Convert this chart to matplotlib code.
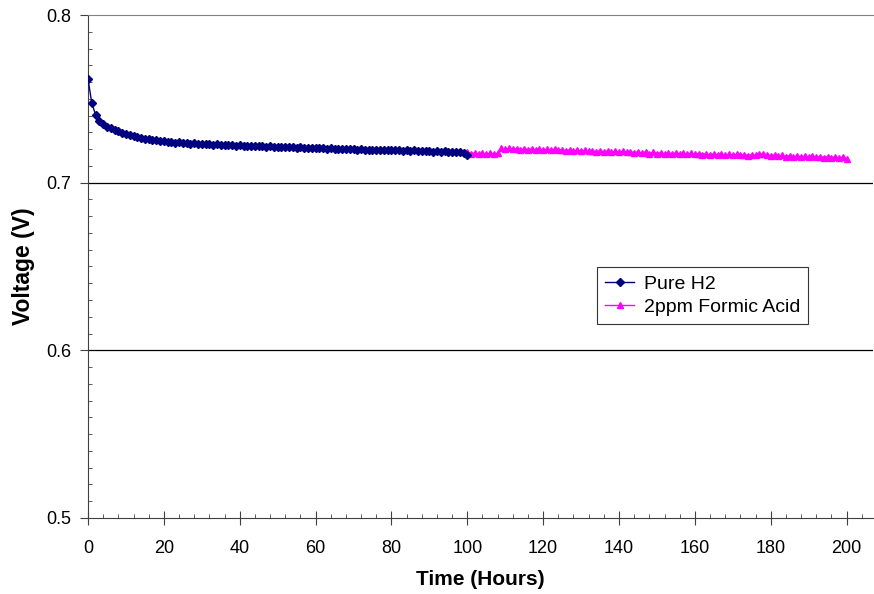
import matplotlib
matplotlib.use("Agg")
import matplotlib.pyplot as plt
import numpy as np
from matplotlib.ticker import MultipleLocator

plt.rcParams["font.family"] = ["Liberation Sans", "DejaVu Sans"]

# time grid in hours (one reading per hour)
h2_time = np.arange(0, 101)
formic_time = np.arange(100, 201)

# Pure H2, t = 0..100 h
h2_volt = [
    0.7617, 0.7475, 0.7405, 0.7370, 0.7351, 0.7334, 0.7324, 0.7312, 0.7306, 0.7297,
    0.7291, 0.7283, 0.7279, 0.7272, 0.7269, 0.7262, 0.7260, 0.7254, 0.7252, 0.7247,
    0.7247, 0.7242, 0.7244, 0.7239, 0.7240, 0.7236, 0.7238, 0.7233, 0.7235, 0.7231,
    0.7233, 0.7228, 0.7230, 0.7226, 0.7229, 0.7224, 0.7226, 0.7222, 0.7225, 0.7221,
    0.7223, 0.7219, 0.7221, 0.7217, 0.7220, 0.7216, 0.7218, 0.7214, 0.7217, 0.7213,
    0.7215, 0.7211, 0.7214, 0.7210, 0.7212, 0.7208, 0.7211, 0.7207, 0.7209, 0.7205,
    0.7208, 0.7204, 0.7206, 0.7202, 0.7205, 0.7201, 0.7203, 0.7199, 0.7202, 0.7198,
    0.7200, 0.7196, 0.7198, 0.7194, 0.7197, 0.7193, 0.7195, 0.7192, 0.7196, 0.7195,
    0.7197, 0.7193, 0.7195, 0.7191, 0.7193, 0.7189, 0.7192, 0.7188, 0.7190, 0.7187,
    0.7189, 0.7185, 0.7188, 0.7184, 0.7186, 0.7183, 0.7185, 0.7182, 0.7184, 0.7178,
    0.7166,
]

# 2ppm formic acid, t = 100..200 h
formic_volt = [
    0.7180, 0.7174, 0.7177, 0.7172, 0.7176, 0.7171, 0.7175, 0.7170, 0.7176, 0.7205,
    0.7199, 0.7204, 0.7198, 0.7203, 0.7197, 0.7202, 0.7196, 0.7201, 0.7195, 0.7200,
    0.7194, 0.7199, 0.7193, 0.7198, 0.7192, 0.7197, 0.7191, 0.7196, 0.7188, 0.7193,
    0.7187, 0.7192, 0.7186, 0.7191, 0.7185, 0.7190, 0.7184, 0.7189, 0.7181, 0.7187,
    0.7181, 0.7186, 0.7180, 0.7185, 0.7179, 0.7184, 0.7178, 0.7183, 0.7174, 0.7180,
    0.7174, 0.7179, 0.7173, 0.7178, 0.7172, 0.7177, 0.7171, 0.7176, 0.7170, 0.7175,
    0.7169, 0.7174, 0.7168, 0.7173, 0.7167, 0.7172, 0.7166, 0.7171, 0.7165, 0.7170,
    0.7164, 0.7169, 0.7163, 0.7168, 0.7162, 0.7167, 0.7163, 0.7169, 0.7172, 0.7167,
    0.7161, 0.7166, 0.7158, 0.7163, 0.7156, 0.7161, 0.7155, 0.7160, 0.7154, 0.7159,
    0.7152, 0.7157, 0.7151, 0.7156, 0.7150, 0.7155, 0.7149, 0.7154, 0.7148, 0.7152,
    0.7141,
]

fig = plt.figure(figsize=(8.74, 5.94), dpi=100)
ax = fig.add_axes([0.1007, 0.128, 0.8983, 0.8467])

ax.plot(h2_time, h2_volt, color="#000080", lw=1, marker="D", ms=4.2,
        label="Pure H2", zorder=4)
ax.plot(formic_time, formic_volt, color="#FF00FF", lw=1, marker="^", ms=5,
        label="2ppm Formic Acid", zorder=3)

ax.set_xlim(0, 207)
ax.set_ylim(0.5, 0.8)
ax.xaxis.set_major_locator(MultipleLocator(20))
ax.xaxis.set_minor_locator(MultipleLocator(4))
ax.yaxis.set_major_locator(MultipleLocator(0.1))
ax.yaxis.set_minor_locator(MultipleLocator(0.01))
ax.yaxis.set_major_formatter(plt.FuncFormatter(lambda v, p: f"{v:.1f}"))

for y in [0.6, 0.7]:
    ax.axhline(y, color="black", lw=0.9, zorder=1)

ax.spines["right"].set_visible(False)
ax.spines["top"].set_color("#808080")
ax.spines["left"].set_color("#404040")
ax.spines["bottom"].set_color("#404040")

ax.tick_params(which="major", labelsize=13, colors="#404040", labelcolor="black")
ax.tick_params(axis="y", which="major", direction="out", length=6, pad=6)
ax.tick_params(axis="x", which="major", direction="inout", length=10, pad=11)
ax.tick_params(which="minor", direction="in", length=3, colors="#404040")

ax.set_xlabel("Time (Hours)", fontsize=15, fontweight="bold", labelpad=9)
ax.set_ylabel("Voltage (V)", fontsize=16.5, fontweight="bold", labelpad=8)

leg = ax.legend(loc="upper left", bbox_to_anchor=(0.648, 0.499),
                fontsize=14, frameon=True, fancybox=False, borderpad=0.42,
                handlelength=1.5, handletextpad=0.5, labelspacing=0.3,
                borderaxespad=0)
leg.get_frame().set_edgecolor("black")
leg.get_frame().set_linewidth(0.8)

fig.savefig("out.png", dpi=100)
